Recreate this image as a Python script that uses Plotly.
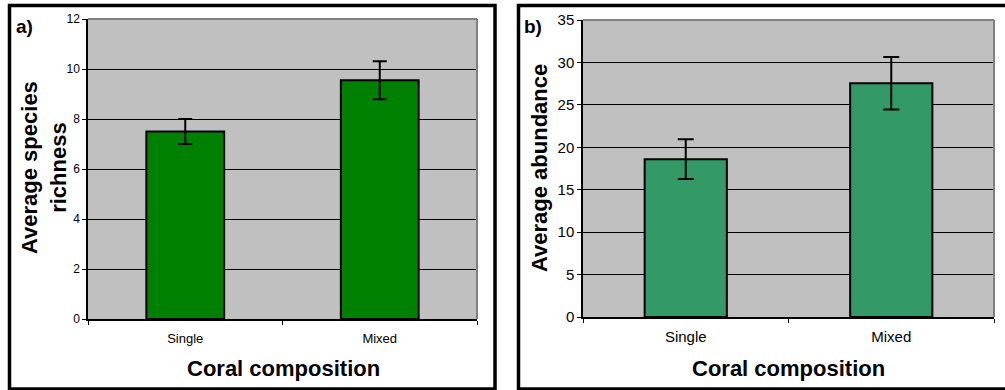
import plotly.graph_objects as go

W, H = 1005, 390

categories = ["Single", "Mixed"]
richness = [7.5, 9.55]
richness_err = [0.5, 0.76]
abundance = [18.6, 27.55]
abundance_err = [2.35, 3.1]

def px(x):
    return x / W

def py(y):
    return 1 - y / H

FONT = "Liberation Sans, Arial, sans-serif"

fig = go.Figure()

fig.add_trace(go.Bar(
    x=categories, y=richness, xaxis="x", yaxis="y",
    marker=dict(color="#008000", line=dict(color="black", width=2)),
    error_y=dict(type="data", array=richness_err, visible=True,
                 color="black", thickness=2, width=7),
    showlegend=False,
))
fig.add_trace(go.Bar(
    x=categories, y=abundance, xaxis="x2", yaxis="y2",
    marker=dict(color="#339966", line=dict(color="black", width=2)),
    error_y=dict(type="data", array=abundance_err, visible=True,
                 color="black", thickness=2, width=8),
    showlegend=False,
))

axis_common = dict(showline=True, linecolor="black", linewidth=1.5,
                   ticks="outside", ticklen=4, tickcolor="black", tickwidth=1,
                   zeroline=False, automargin=False)

fig.update_layout(
    width=W, height=H, autosize=False,
    margin=dict(l=0, r=0, t=0, b=0, pad=0, autoexpand=False),
    paper_bgcolor="white",
    plot_bgcolor="#C0C0C0",
    bargap=0.6,
    font=dict(family=FONT, color="black"),
    xaxis=dict(domain=[px(88), px(477)], anchor="y", type="category",
               tickson="boundaries", showgrid=False,
               tickfont=dict(size=13, family=FONT), ticklabelstandoff=7,
               **axis_common),
    yaxis=dict(domain=[py(319), py(19)], anchor="x", range=[0, 12], dtick=2,
               showgrid=True, gridcolor="black", gridwidth=1,
               tickfont=dict(size=12, family=FONT),
               **axis_common),
    xaxis2=dict(domain=[px(583), px(994)], anchor="y2", type="category",
                tickson="boundaries", showgrid=False,
                tickfont=dict(size=15, family=FONT), ticklabelstandoff=5,
                **axis_common),
    yaxis2=dict(domain=[py(317), py(20)], anchor="x2", range=[0, 35], dtick=5,
                showgrid=True, gridcolor="black", gridwidth=1,
                tickfont=dict(size=15, family=FONT),
                **axis_common),
)

# plot-area frame (top and right edges, grey)
for xr, yr in (("x domain", "y domain"), ("x2 domain", "y2 domain")):
    fig.add_shape(type="line", xref=xr, yref=yr, x0=0, x1=1, y0=1, y1=1,
                  line=dict(color="#808080", width=2))
    fig.add_shape(type="line", xref=xr, yref=yr, x0=1, x1=1, y0=0, y1=1,
                  line=dict(color="#808080", width=2))

# outer panel borders
fig.add_shape(type="rect", xref="paper", yref="paper",
              x0=px(9.5), x1=px(495), y0=py(389), y1=py(5.5),
              line=dict(color="black", width=3.5))
fig.add_shape(type="rect", xref="paper", yref="paper",
              x0=px(518.5), x1=px(1010), y0=py(389), y1=py(5.5),
              line=dict(color="black", width=3.5))

bold = dict(family=FONT, size=22, color="black")
ann = [
    dict(text="<b>a)</b>", x=px(24), y=py(27), font=dict(family=FONT, size=19)),
    dict(text="<b>b)</b>", x=px(533), y=py(27), font=dict(family=FONT, size=19)),
    dict(text="<b>Coral composition</b>", x=px(283), y=py(368), font=bold),
    dict(text="<b>Coral composition</b>", x=px(788), y=py(368), font=bold),
    dict(text="<b>Average species<br>richness</b>", x=px(44), y=py(168),
         textangle=-90, font=bold),
    dict(text="<b>Average abundance</b>", x=px(539), y=py(168),
         textangle=-90, font=bold),
]
for a in ann:
    fig.add_annotation(xref="paper", yref="paper", showarrow=False,
                       xanchor="center", yanchor="middle", **a)

fig.write_html(
    "out.html",
    config={"displayModeBar": False},
    post_script="document.body.style.margin='0';",
)
